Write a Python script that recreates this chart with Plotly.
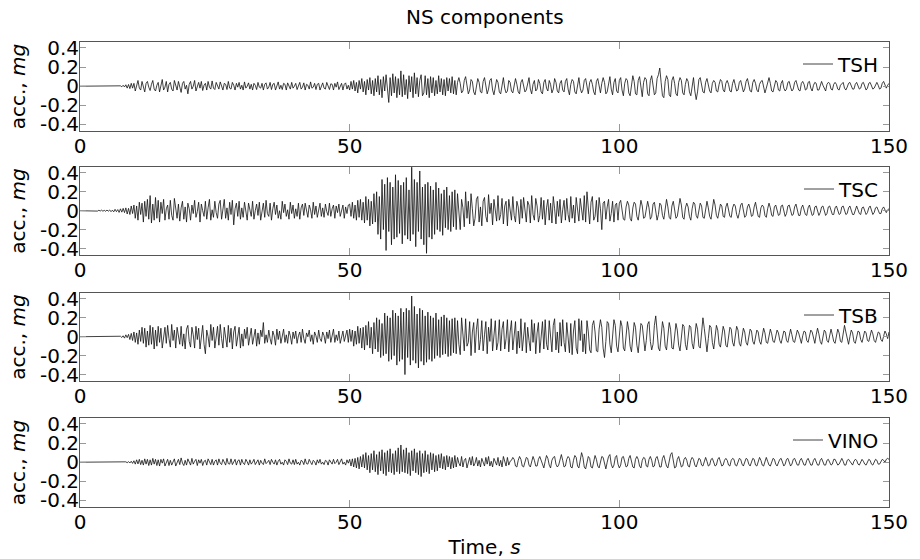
import plotly.graph_objects as go

# Digitised accelerograms, one sample every 0.25 s from 0 to 150 s (values in mg)
tsh = [
 0,0,0,0,0,0,0,0,0,0, 0,0,0,0,0,0,0,0,0,0,
 0,0,0,0,0,0,0,0,0,0, 0.004,-0.006,0.01,-0.008,0.015,-0.02,0.018,-0.025,0.03,-0.02,
 0.03,-0.05,0.01,0.06,-0.02,-0.04,0.05,0.0,-0.06,0.03, 0.05,-0.01,-0.045,0.02,0.06,-0.03,-0.05,0.01,0.04,-0.06,
 0.02,0.07,-0.04,-0.01,0.05,-0.06,0.02,0.04,-0.03,-0.05, 0.06,0.0,-0.04,0.05,-0.02,-0.065,0.03,0.05,-0.03,0.01,
 -0.08,0.02,0.05,-0.03,0.0,0.06,-0.05,-0.01,0.04,-0.02, 0.05,-0.045,0.01,0.03,-0.04,0.05,-0.01,-0.03,0.055,-0.02,
 -0.035,0.04,0.0,-0.03,0.045,-0.01,-0.04,0.03,0.02,-0.035, 0.05,-0.02,-0.03,0.04,0.01,-0.04,0.03,-0.01,0.04,-0.03,
 0.01,-0.04,0.045,-0.02,0.0,0.035,-0.03,0.02,-0.04,0.03, 0.01,-0.035,0.04,-0.01,-0.02,0.03,-0.04,0.02,0.035,-0.03,
 -0.01,0.04,-0.035,0.02,0.03,-0.04,0.0,0.045,-0.03,0.01, -0.035,0.03,0.02,-0.04,0.035,-0.01,-0.03,0.04,-0.02,0.0,
 0.03,-0.035,0.01,0.04,-0.03,-0.01,0.035,-0.04,0.02,0.01, -0.03,0.045,-0.02,-0.01,0.03,-0.035,0.02,0.03,-0.04,0.01,
 0.035,-0.02,-0.03,0.04,0.0,-0.035,0.025,0.02,-0.04,0.03, -0.01,0.045,-0.035,0.0,0.03,-0.04,0.02,0.035,-0.03,0.01,
 -0.04,0.05,-0.03,0.06,-0.05,0.04,-0.07,0.06,-0.03,0.08, -0.06,0.05,-0.09,0.07,-0.04,0.09,-0.08,0.06,-0.1,0.08,
 -0.06,0.11,-0.09,0.07,-0.12,0.1,-0.05,0.12,-0.08,-0.17, 0.09,-0.1,0.13,-0.07,0.1,-0.12,0.08,-0.09,0.16,-0.11,
 0.12,-0.09,0.07,-0.13,0.11,-0.06,0.1,-0.12,0.14,-0.08, 0.09,-0.11,0.06,0.12,-0.1,-0.07,0.11,-0.09,0.08,-0.12,
 0.1,-0.07,0.09,-0.1,0.06,-0.08,0.11,-0.06,0.08,-0.09, 0.07,-0.1,0.09,-0.05,0.08,-0.07,0.1,-0.08,0.06,-0.09,
 0.04,0.09,0.03,-0.07, -0.05,0.06,0.1,-0.02, -0.08,-0.04,0.07,0.05, -0.06,-0.09,0.02,0.08, 0.04,-0.06,-0.07,0.05,
 0.09,0.02,-0.08,-0.03, 0.06,0.08,-0.04,-0.09, 0.01,0.07,0.04,-0.06, -0.08,0.03,0.09,-0.02, -0.07,-0.05,0.06,0.04,
 -0.05,-0.07,0.03,0.08, 0.02,-0.06,-0.08,0.04, 0.07,0.01,-0.06,-0.04, 0.05,0.09,-0.03,-0.08, 0.02,0.06,-0.05,-0.03,
 0.07,0.03,-0.06,-0.08, 0.04,0.07,-0.02,-0.05, 0.06,0.02,-0.07,-0.03, 0.08,0.04,-0.05,-0.07, 0.03,0.06,-0.04,-0.06,
 0.05,0.08,-0.03,-0.09, 0.02,0.07,0.05,-0.06, -0.08,0.03,0.09,-0.02, -0.07,-0.04,0.06,0.08, -0.03,-0.08,0.04,0.07,
 0.02,-0.06,-0.09,0.05, 0.08,-0.02,-0.07,0.03, 0.09,0.04,-0.08,-0.06, 0.05,0.1,-0.03,-0.09, 0.04,0.08,-0.05,-0.07,
 0.06,0.09,-0.04,-0.1, 0.03,0.08,0.06,-0.07, -0.1,0.02,0.11,0.05, -0.08,-0.09,0.06,0.1, -0.02,-0.11,0.04,0.09,
 0.07,-0.08,-0.1,0.06, 0.11,0.02,-0.09,-0.07, 0.08,0.12,0.19,0.04, -0.1,-0.12,0.05,0.11, 0.07,-0.09,-0.11,0.06,
 0.1,0.03,-0.08,-0.1, 0.04,0.09,0.06,-0.07, -0.09,0.02,0.08,0.05, -0.06,-0.1,0.03,0.09, -0.05,-0.14,-0.06,0.07,
 0.09,0.03,-0.06,-0.07, 0.04,0.08,0.02,-0.05, -0.07,0.03,0.06,0.04, -0.05,-0.06,0.02,0.07, 0.05,-0.04,-0.06,0.03,
 0.06,0.02,-0.05,-0.06, 0.03,0.07,0.01,-0.05, -0.04,0.04,0.06,-0.02, -0.06,-0.03,0.05,0.08, 0.02,-0.05,-0.06,0.04,
 0.07,0.03,-0.04,-0.06, 0.02,0.05,0.06,-0.03, -0.07,-0.02,0.05,0.09, 0.03,-0.05,-0.06,0.02, 0.06,0.04,-0.04,-0.05,
 0.03,0.06,-0.02,-0.05, -0.03,0.04,0.05,-0.01, -0.05,-0.03,0.04,0.06, 0.01,-0.04,-0.05,0.03, 0.05,0.02,-0.04,-0.03,
 0.04,0.05,-0.02,-0.05, 0.01,0.04,0.03,-0.04, -0.04,0.02,0.05,0.01, -0.03,-0.05,0.02,0.04, 0.03,-0.03,-0.04,0.02,
 0.04,0.02,-0.03,-0.04, 0.01,0.03,0.04,-0.02, -0.04,-0.01,0.03,0.04, 0.0,-0.03,-0.03,0.02, 0.04,0.01,-0.03,-0.02,
 0.03,0.04,-0.01,-0.04, -0.02,0.03,0.04,0.0, -0.03,-0.02,0.02,0.04, 0.01,-0.03,-0.02,0.03, 0.05,0.02,-0.02,0.01,
 0.03,
]

tsc = [
 0,0,0,0,0,0,0,0,0,0, 0,0,0.003,-0.004,0.005,-0.003,0.006,-0.005,0.004,-0.006,
 0.007,-0.005,0.008,-0.01,0.006,-0.012,0.015,-0.01,0.012,-0.018, 0.02,-0.015,0.025,-0.02,0.03,-0.035,0.025,-0.04,0.05,-0.03,
 0.06,-0.08,0.05,-0.1,0.09,-0.04,0.08,-0.12,0.1,-0.06, 0.12,-0.09,0.16,-0.13,0.07,-0.1,0.14,-0.08,0.11,-0.12,
 0.09,-0.03,0.12,-0.1,0.02,0.06,-0.09,0.11,-0.05,-0.1, 0.13,0.01,-0.08,0.07,-0.11,0.03,0.1,-0.09,0.04,-0.12,
 0.08,0.02,-0.1,0.06,-0.03,0.11,-0.07,-0.01,0.09,-0.12, 0.07,0.0,-0.06,0.1,-0.09,0.03,0.12,-0.1,0.01,-0.07,
 0.1,-0.02,-0.08,0.07,0.11,-0.09,0.01,0.12,-0.08,0.03, -0.1,0.09,-0.04,0.11,-0.15,0.02,0.08,-0.06,0.1,-0.09,
 0.03,-0.07,0.09,-0.01,-0.1,0.08,0.02,-0.06,0.1,-0.09, 0.0,0.07,-0.05,0.09,-0.1,0.01,0.08,-0.07,0.11,-0.03,
 -0.06,0.08,-0.1,0.02,0.09,-0.04,0.06,-0.08,0.0,-0.09, 0.1,-0.02,0.07,-0.06,0.01,-0.09,0.09,-0.03,0.06,-0.08,
 0.02,-0.06,0.08,-0.09,0.03,0.07,-0.05,0.08,-0.02,-0.07, 0.06,0.01,-0.08,0.09,-0.04,0.05,-0.07,0.0,0.08,-0.06,
 0.03,-0.07,0.07,-0.01,-0.05,0.08,-0.06,0.02,0.06,-0.08, 0.05,-0.02,0.07,-0.06,0.0,0.06,-0.08,0.04,-0.03,0.06,
 0.07,-0.06,0.09,-0.08,0.06,-0.1,0.11,-0.07,0.12,-0.1, 0.09,-0.13,0.15,-0.1,0.12,-0.16,0.1,-0.14,0.18,-0.12,
 0.2,-0.25,0.15,-0.3,0.33,-0.2,0.28,-0.42,0.35,-0.22, 0.3,-0.36,0.25,-0.3,0.38,-0.28,0.32,-0.24,0.27,-0.35,
 0.3,-0.26,0.35,-0.3,0.22,-0.32,0.46,-0.25,0.33,-0.38, 0.3,-0.22,0.42,-0.3,0.25,-0.36,0.28,-0.45,0.3,-0.28,
 0.26,-0.3,0.22,-0.25,0.3,-0.2,0.24,-0.22,0.18,-0.26, 0.22,-0.18,0.25,-0.2,0.16,-0.22,0.2,-0.17,0.22,-0.2,
 0.18,-0.05,-0.2,0.12,0.03,-0.17,0.2,-0.08,0.1,-0.14, 0.18,0.02,-0.16,-0.08,0.12,0.15,-0.12,0.04,-0.16,0.1,
 0.14,-0.06,-0.12,0.17,-0.03,0.08,-0.15,0.12,0.02,-0.11, 0.16,-0.1,-0.04,0.13,-0.14,0.05,0.1,-0.16,0.12,-0.02,
 -0.1,0.15,-0.05,-0.12,0.1,0.04,-0.14,0.12,-0.08,0.14, -0.02,-0.12,0.1,0.06,-0.13,0.16,-0.04,-0.1,0.13,0.05,
 -0.12,-0.05,0.14,-0.09,0.11,-0.15,0.03,0.12,-0.1,0.08, -0.13,0.15,0.02,-0.14,0.1,-0.06,0.12,-0.13,0.01,0.11,
 -0.1,0.13,-0.04,-0.12,0.15,-0.08,0.06,-0.13,0.14,-0.02, -0.11,0.13,0.03,-0.1,0.16,-0.12,0.2,0.05,-0.14,0.09,
 0.15,-0.1,-0.06,0.11,-0.12,0.14,0.02,-0.2,0.08,0.1, -0.09,0.04,0.12,-0.11,-0.03,0.1,-0.12,0.06,0.08,-0.1,
 0.08,0.11,0.02,-0.09, -0.1,0.04,0.1,0.06, -0.08,-0.11,0.03,0.09, 0.07,-0.06,-0.1,0.02, 0.11,0.05,-0.08,-0.07,
 0.04,0.1,0.03,-0.09, -0.06,0.07,0.09,-0.02, -0.1,-0.04,0.08,0.06, -0.05,-0.09,0.03,0.12, 0.04,-0.07,-0.09,0.05,
 0.1,0.02,-0.08,-0.06, 0.05,0.13,0.06,-0.07, -0.09,0.03,0.08,0.04, -0.06,-0.1,0.02,0.09, 0.07,-0.05,-0.08,0.03,
 0.08,0.05,-0.07,-0.08, 0.04,0.1,0.03,-0.06, -0.09,0.02,0.12,0.06, -0.05,-0.08,0.01,0.07, 0.05,-0.06,-0.07,0.04,
 0.08,0.02,-0.06,-0.07, 0.03,0.07,0.05,-0.04, -0.08,-0.02,0.06,0.08, -0.01,-0.07,-0.05,0.04, 0.07,0.02,-0.06,-0.05,
 0.04,0.09,0.01,-0.06, -0.07,0.03,0.06,0.04, -0.05,-0.07,0.02,0.08, 0.03,-0.05,-0.06,0.04, 0.06,0.01,-0.05,-0.04,
 0.05,0.06,-0.02,-0.06, -0.03,0.05,0.06,0.0, -0.05,-0.04,0.04,0.07, 0.01,-0.05,-0.05,0.03, 0.06,0.02,-0.04,-0.05,
 0.03,0.06,0.0,-0.05, -0.04,0.04,0.05,-0.01, -0.05,-0.02,0.04,0.05, -0.01,-0.05,-0.03,0.04, 0.05,0.01,-0.04,-0.04,
 0.03,0.05,0.0,-0.04, -0.03,0.04,0.05,-0.01, -0.04,-0.03,0.03,0.05, 0.01,-0.04,-0.04,0.02, 0.05,0.01,-0.03,-0.04,
 0.03,0.04,-0.01,-0.04, -0.02,0.03,0.05,0.0, -0.04,-0.02,0.03,0.04, 0.0,-0.03,-0.03,0.02, 0.04,0.01,-0.02,0.01,
 0.02,
]

tsb = [
 0,0,0,0,0,0,0,0,0,0, 0,0,0,0,0,0,0,0,0,0,
 0,0,0,0,0,0,0,0,0,0, 0.005,-0.008,0.01,-0.015,0.02,-0.01,0.025,-0.03,0.035,-0.04,
 0.05,-0.06,0.04,-0.08,0.07,-0.05,0.1,-0.07,0.09,-0.11, 0.06,-0.09,0.12,-0.08,0.1,-0.13,0.07,-0.1,0.11,-0.06,
 0.09,-0.12,0.02,0.1,-0.07,0.12,-0.02,-0.11,0.13,-0.04, 0.07,-0.12,0.1,0.0,-0.08,0.11,-0.1,0.03,-0.13,0.08,
 0.12,-0.05,-0.11,0.1,0.02,-0.12,0.11,-0.03,0.09,-0.13, 0.04,0.12,-0.08,-0.18,0.07,0.0,-0.11,0.13,-0.04,0.1,
 -0.12,0.03,0.11,-0.09,0.13,-0.02,-0.12,0.1,0.0,-0.11, 0.12,-0.06,0.09,-0.13,0.05,0.11,-0.1,0.02,0.1,-0.12,
 0.03,-0.1,0.08,-0.02,0.1,-0.09,0.01,0.09,-0.08,0.0, 0.08,-0.1,0.04,-0.08,0.07,0.0,0.15,-0.07,0.02,-0.06,
 0.07,-0.02,-0.08,0.06,0.01,-0.09,0.08,-0.03,0.06,-0.07, 0.0,0.08,-0.06,0.02,-0.07,0.06,0.01,-0.08,0.05,-0.02,
 0.06,-0.07,0.01,0.05,-0.06,0.08,-0.02,-0.07,0.04,0.0, 0.07,-0.05,0.02,-0.08,0.05,0.01,-0.06,0.07,-0.02,-0.05,
 0.05,0.01,-0.07,0.05,-0.02,0.07,-0.06,0.0,0.08,-0.06, 0.02,-0.04,0.06,-0.07,0.0,0.06,-0.05,0.02,0.07,-0.06,
 0.08,-0.05,0.07,-0.1,0.06,-0.08,0.11,-0.07,0.09,-0.12, 0.1,-0.14,0.12,-0.09,0.16,-0.12,0.1,-0.18,0.15,-0.13,
 0.2,-0.16,0.18,-0.22,0.14,-0.2,0.25,-0.18,0.22,-0.26, 0.2,-0.24,0.28,-0.2,0.25,-0.3,0.22,-0.26,0.3,-0.24,
 0.26,-0.4,0.3,-0.22,0.28,-0.3,0.43,-0.25,0.32,-0.28, 0.24,-0.33,0.3,-0.26,0.28,-0.3,0.22,-0.27,0.26,-0.24,
 0.22,-0.26,0.2,-0.23,0.25,-0.2,0.18,-0.22,0.21,-0.19, 0.23,-0.18,0.2,-0.21,0.17,-0.2,0.19,-0.17,0.2,-0.18,
 0.17,-0.08,-0.19,0.2,0.04,-0.15,0.19,-0.1,-0.06,0.16, -0.2,0.05,0.15,-0.17,0.08,0.19,-0.14,-0.03,0.17,-0.15,
 0.02,0.16,-0.18,0.1,-0.05,0.19,-0.15,0.03,0.17,-0.14, -0.06,0.18,-0.15,0.08,0.16,-0.13,-0.02,0.18,-0.16,0.05,
 0.17,-0.14,0.03,0.16,-0.18,0.06,-0.12,0.19,-0.15,0.02, 0.15,-0.17,0.1,-0.04,-0.15,0.18,-0.06,0.14,-0.18,0.04,
 0.15,-0.17,-0.02,0.16,-0.13,0.18,-0.08,-0.14,0.17,0.03, -0.16,0.12,0.19,-0.14,0.05,-0.17,0.15,-0.1,0.18,-0.06,
 -0.16,0.15,0.02,-0.17,0.14,-0.19,0.06,0.17,-0.12,-0.18, 0.19,-0.04,0.17,-0.16,0.03,-0.18,0.17,0.05,-0.14,-0.17,
 0.12,0.17,0.05,-0.15, -0.16,0.08,0.18,0.1, -0.12,-0.22,-0.05,0.16, 0.14,-0.08,-0.17,0.02, 0.18,0.12,-0.1,-0.16,
 0.03,0.17,0.11,-0.12, -0.15,0.05,0.16,0.07, -0.1,-0.16,0.04,0.15, 0.1,-0.09,-0.17,-0.02, 0.14,0.12,-0.06,-0.15,
 -0.04,0.13,0.16,-0.05, -0.14,-0.08,0.12,0.22, 0.06,-0.12,-0.15,0.03, 0.16,0.09,-0.1,-0.14, 0.02,0.15,0.08,-0.12,
 -0.13,0.04,0.14,0.07, -0.09,-0.15,0.02,0.13, 0.11,-0.08,-0.14,0.01, 0.12,0.1,-0.07,-0.13, 0.03,0.14,0.08,-0.1,
 -0.12,0.05,0.2,0.09, -0.08,-0.16,-0.02,0.12, 0.1,-0.06,-0.13,0.02, 0.12,0.07,-0.08,-0.11, 0.03,0.11,0.06,-0.09,
 -0.11,0.02,0.1,0.08, -0.06,-0.1,0.01,0.11, 0.07,-0.07,-0.1,0.03, 0.09,0.05,-0.06,-0.09, 0.02,0.08,0.06,-0.05,
 -0.08,0.0,0.07,0.05, -0.05,-0.08,0.02,0.09, 0.04,-0.06,-0.07,0.03, 0.08,0.03,-0.05,-0.06, 0.02,0.07,0.04,-0.04,
 -0.07,-0.01,0.06,0.05, -0.04,-0.06,0.03,0.08, 0.02,-0.05,-0.06,0.02, 0.07,0.04,-0.03,-0.07, 0.01,0.06,0.05,-0.04,
 -0.06,0.0,0.07,0.05, -0.03,-0.07,0.02,0.09, 0.03,-0.05,-0.08,0.01, 0.07,0.05,-0.04,-0.06, 0.03,0.08,0.02,-0.05,
 -0.07,0.02,0.08,0.04, -0.05,-0.06,0.03,0.12, 0.05,-0.04,-0.08,0.0, 0.07,0.04,-0.05,-0.07, 0.02,0.06,0.05,-0.03,
 -0.06,0.01,0.06,0.04, -0.04,-0.05,0.02,0.07, 0.03,-0.04,-0.06,0.0, 0.05,0.04,-0.03,-0.05, 0.02,0.06,0.03,-0.02,
 0.05,
]

vino = [
 0,0,0,0,0,0,0,0,0,0, 0,0,0,0,0,0,0,0,0,0,
 0,0,0,0,0,0,0,0,0,0, 0,0,0.002,-0.003,0.004,-0.005,0.006,-0.008,0.01,-0.012,
 0.015,-0.02,0.025,-0.018,0.03,-0.025,0.02,-0.03,0.035,-0.02, 0.03,-0.035,0.025,-0.03,0.04,-0.02,0.03,-0.035,0.025,-0.04,
 0.03,-0.01,0.035,-0.04,0.005,0.03,-0.035,0.02,-0.03,0.01, 0.035,-0.04,0.0,0.03,-0.025,0.045,-0.01,-0.035,0.02,-0.03,
 0.035,0.0,-0.03,0.04,-0.02,0.01,0.03,-0.035,0.025,-0.01, 0.03,-0.035,0.01,0.02,-0.03,0.035,-0.005,-0.025,0.03,-0.03,
 0.01,0.025,-0.03,0.035,-0.01,-0.025,0.03,0.0,-0.03,0.04, -0.015,-0.02,0.035,-0.025,0.005,0.03,-0.03,0.015,0.025,-0.03,
 0.03,-0.01,-0.025,0.03,0.005,-0.03,0.025,-0.02,0.0,0.03, -0.025,0.01,0.025,-0.03,0.02,-0.01,-0.025,0.035,-0.015,0.0,
 0.02,-0.025,0.03,0.0,-0.02,0.025,-0.03,0.01,0.03,-0.02, 0.0,-0.03,0.025,0.01,-0.025,0.035,-0.01,-0.02,0.025,-0.025,
 0.03,-0.02,0.0,-0.03,0.02,0.01,-0.025,0.035,-0.015,-0.02, 0.03,0.0,-0.025,0.02,0.005,-0.03,0.025,-0.01,0.03,-0.02,
 0.0,-0.025,0.02,0.01,-0.03,0.025,-0.005,-0.02,0.03,-0.015, 0.0,0.03,-0.025,0.01,0.035,-0.02,0.0,-0.03,0.025,-0.01,
 0.03,-0.04,0.035,-0.05,0.04,-0.06,0.05,-0.07,0.06,-0.05, 0.08,-0.06,0.1,-0.08,0.07,-0.11,0.09,-0.08,0.12,-0.1,
 0.08,-0.13,0.11,-0.09,0.13,-0.12,0.1,-0.14,0.12,-0.1, 0.14,-0.11,0.09,-0.13,0.12,-0.1,0.15,-0.12,0.18,-0.1,
 0.13,-0.11,0.15,-0.12,0.1,-0.14,0.12,-0.09,0.14,-0.11, 0.1,-0.13,0.12,-0.15,0.09,-0.11,0.12,-0.1,0.08,-0.12,
 0.1,-0.08,0.09,-0.1,0.07,-0.09,0.08,-0.06,0.09,-0.07, 0.06,-0.08,0.07,-0.05,0.06,-0.07,0.05,-0.06,0.07,-0.05,
 0.05,-0.01,-0.04,0.06,-0.05,0.02,0.04,-0.06,0.0,0.05, -0.03,0.06,-0.04,-0.01,0.05,-0.04,0.02,-0.05,0.04,0.0,
 -0.04,0.05,-0.02,0.06,-0.04,0.01,-0.05,0.04,0.0,-0.03, 0.05,-0.04,0.02,-0.05,0.06,-0.01,-0.04,0.05,-0.03,0.01,
 0.02,0.05,0.03,-0.04, -0.05,0.02,0.06,0.03, -0.04,-0.05,0.01,0.05, 0.04,-0.03,-0.05,0.02, 0.06,0.02,-0.04,-0.04,
 0.03,0.06,0.02,-0.04, -0.06,0.01,0.07,0.04, -0.03,-0.06,0.02,0.05, 0.06,-0.02,-0.05,-0.03, 0.04,0.08,0.02,-0.05,
 -0.04,0.03,0.06,0.04, -0.05,-0.06,0.02,0.07, 0.05,-0.04,-0.06,0.03, 0.1,0.05,-0.05,-0.07, 0.02,0.06,0.04,-0.05,
 -0.06,0.02,0.07,0.03, -0.04,-0.06,0.01,0.06, 0.05,-0.03,-0.07,0.0, 0.06,0.08,-0.02,-0.06, -0.03,0.05,0.07,-0.02,
 -0.06,-0.03,0.05,0.06, -0.01,-0.05,-0.04,0.04, 0.07,0.02,-0.05,-0.06, 0.03,0.06,0.03,-0.04, -0.06,0.02,0.05,0.04,
 -0.04,-0.05,0.03,0.06, 0.02,-0.05,-0.04,0.04, 0.06,0.01,-0.05,-0.05, 0.04,0.07,0.02,-0.04, -0.06,0.03,0.08,0.1,
 0.02,-0.06,-0.05,0.03, 0.06,0.01,-0.05,-0.04, 0.03,0.05,0.02,-0.04, -0.05,0.02,0.05,0.03, -0.03,-0.05,0.01,0.04,
 0.03,-0.03,-0.04,0.02, 0.05,0.01,-0.04,-0.03, 0.03,0.04,0.0,-0.04, -0.03,0.03,0.05,0.01, -0.04,-0.03,0.02,0.04,
 0.02,-0.03,-0.04,0.02, 0.04,0.03,-0.03,-0.04, 0.01,0.04,0.03,-0.02, -0.04,0.0,0.04,0.03, -0.02,-0.04,0.01,0.04,
 0.03,-0.03,-0.04,0.02, 0.05,0.02,-0.03,-0.04, 0.02,0.05,0.01,-0.03, -0.04,0.01,0.04,0.03, -0.02,-0.04,0.0,0.03,
 0.04,-0.01,-0.04,-0.02, 0.03,0.04,0.0,-0.04, -0.02,0.03,0.04,0.01, -0.03,-0.03,0.02,0.04, 0.01,-0.03,-0.03,0.02,
 0.04,0.01,-0.03,-0.03, 0.02,0.04,0.0,-0.03, -0.03,0.02,0.04,0.01, -0.03,-0.03,0.02,0.03, 0.0,-0.03,-0.02,0.03,
 0.03,0.0,-0.03,-0.02, 0.02,0.04,0.01,-0.03, -0.03,0.02,0.03,0.01, -0.02,-0.03,0.01,0.03, 0.02,-0.02,-0.03,0.01,
 0.03,0.01,-0.02,-0.03, 0.01,0.03,0.02,-0.02, -0.03,0.0,0.03,0.02, -0.02,-0.02,0.01,0.03, 0.02,0.0,0.03,0.04,
 0.03,
]

station_names = ["TSH", "TSC", "TSB", "VINO"]
series = [tsh, tsc, tsb, vino]
t_start, t_end = 0, 150

x_tick_vals = [0, 50, 100, 150]
x_tick_text = ["0", "50", "100", "150"]
y_tick_vals = [0.4, 0.2, 0, -0.2, -0.4]
y_tick_text = ["0.4", "0.2", "0", "-0.2", "-0.4"]

FONT = "DejaVu Sans"
W, H = 920, 559
ML, MR, MT, MB = 80, 31, 42, 52
plot_h = H - MT - MB

panel_px = [(42, 131), (167, 255), (293, 381), (418, 507)]

def frac(px):
    return (H - MB - px) / plot_h

fig = go.Figure()
layout = dict(
    width=W, height=H,
    margin=dict(l=ML, r=MR, t=MT, b=MB, autoexpand=False),
    paper_bgcolor="white", plot_bgcolor="white",
    font=dict(family=FONT, size=20, color="black"),
    title=dict(text="NS components", x=0.527, xanchor="center",
               y=1 - 17 / H, yanchor="middle", yref="container",
               font=dict(family=FONT, size=20, color="black")),
    showlegend=True,
)

for i, (name, ys) in enumerate(zip(station_names, series)):
    n = i + 1
    step = (t_end - t_start) / (len(ys) - 1)
    xs = [t_start + k * step for k in range(len(ys))]
    sfx = "" if n == 1 else str(n)
    lg = "legend" if n == 1 else f"legend{n}"
    fig.add_trace(go.Scatter(
        x=xs, y=ys, mode="lines", name=name,
        line=dict(color="#111111", width=0.8),
        xaxis=f"x{sfx}", yaxis=f"y{sfx}", legend=lg,
        hoverinfo="skip",
    ))
    top, bot = panel_px[i]
    layout[f"xaxis{sfx}"] = dict(
        domain=[0, 1], anchor=f"y{sfx}", range=[0, 150], automargin=False,
        tickmode="array", tickvals=x_tick_vals, ticktext=x_tick_text,
        ticks="inside", ticklen=7, tickcolor="#999", tickwidth=1,
        showline=True, linecolor="#555", linewidth=1, mirror="ticks",
        showgrid=False, zeroline=False, ticklabelstandoff=-3,
        tickfont=dict(family=FONT, size=20, color="black"),
        title=dict(text="Time, <i>s</i>" if n == 4 else "",
                   font=dict(family=FONT, size=20, color="black"),
                   standoff=10),
    )
    layout[f"yaxis{sfx}"] = dict(
        domain=[frac(bot), frac(top)], anchor=f"x{sfx}", automargin=False,
        range=[-0.468, 0.462],
        tickmode="array", tickvals=y_tick_vals, ticktext=y_tick_text,
        ticks="inside", ticklen=6, tickcolor="#999", tickwidth=1,
        showline=True, linecolor="#555", linewidth=1, mirror="ticks",
        showgrid=False, zeroline=False, ticklabelstandoff=-4,
        tickfont=dict(family=FONT, size=20, color="black"),
        title=dict(text="acc., <i>mg</i>",
                   font=dict(family=FONT, size=20, color="black"),
                   standoff=8),
    )
    layout[lg] = dict(
        x=(884 - ML) / (W - ML - MR), xanchor="right",
        y=frac(top + 22), yanchor="middle",
        bgcolor="rgba(0,0,0,0)", borderwidth=0,
        font=dict(family=FONT, size=20, color="black"),
        itemwidth=30, tracegroupgap=0,
    )

fig.update_layout(**layout)
fig.write_html(
    "out.html",
    config={"displayModeBar": False, "staticPlot": True},
    post_script="document.body.style.margin='0';document.body.style.padding='0';"
                "document.documentElement.style.overflow='hidden';",
)
